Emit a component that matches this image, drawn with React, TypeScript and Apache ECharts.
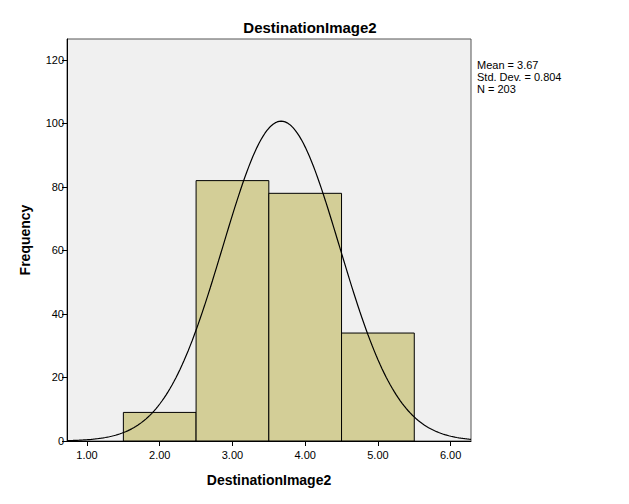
import React, { useEffect, useRef } from "react";
import * as echarts from "echarts";

const binStarts = [1.5, 2.5, 3.5, 4.5];
const binEnds = [2.5, 3.5, 4.5, 5.5];
const counts = [9, 82, 78, 34];
const xTicks = [1, 2, 3, 4, 5, 6];
const yTicks = [0, 20, 40, 60, 80, 100, 120];
const statsLines = ["Mean = 3.67", "Std. Dev. = 0.804", "N = 203"];
const mean = 3.67;
const sd = 0.804;
const n = 203;
const binWidth = 1;

const X_MIN = 0.725;
const X_MAX = 6.28;
const Y_MAX = 126.6;

export default function App() {
  const ref = useRef<HTMLDivElement>(null);
  useEffect(() => {
    if (!ref.current) return;
    const chart = echarts.init(ref.current, undefined, { renderer: "svg" });
    const curve: number[][] = [];
    const steps = 200;
    for (let i = 0; i <= steps; i++) {
      const x = X_MIN + ((X_MAX - X_MIN) * i) / steps;
      const z = (x - mean) / sd;
      const y = (n * binWidth * Math.exp(-0.5 * z * z)) / (sd * Math.sqrt(2 * Math.PI));
      curve.push([x, y]);
    }
    const barData = counts.map((c, i) => [binStarts[i], binEnds[i], c]);
    const font = "'Liberation Sans', Arial, sans-serif";
    chart.setOption({
      animation: false,
      backgroundColor: "#ffffff",
      title: {
        text: "DestinationImage2",
        left: 305,
        top: 15,
        textAlign: "center",
        textStyle: { fontFamily: font, fontSize: 15, fontWeight: "bold", color: "#000" },
      },
      grid: {
        left: 67,
        top: 39,
        right: 158,
        bottom: 63,
        show: true,
        backgroundColor: "#f0f0f0",
        borderColor: "#555555",
        borderWidth: 1,
      },
      xAxis: {
        type: "value",
        min: X_MIN,
        max: X_MAX,
        name: "DestinationImage2",
        nameLocation: "middle",
        nameGap: 32,
        nameTextStyle: { fontFamily: font, fontSize: 14, fontWeight: "bold", color: "#000" },
        axisLine: { show: true, lineStyle: { color: "#000", width: 1 } },
        axisTick: { show: true, length: 5, customValues: xTicks, lineStyle: { color: "#000" } },
        axisLabel: {
          customValues: xTicks,
          formatter: (v: number) => v.toFixed(2),
          fontFamily: font,
          fontSize: 11,
          color: "#000",
          margin: 8,
        },
        splitLine: { show: false },
      },
      yAxis: {
        type: "value",
        min: 0,
        max: Y_MAX,
        name: "Frequency",
        nameLocation: "middle",
        nameGap: 35,
        nameTextStyle: { fontFamily: font, fontSize: 14, fontWeight: "bold", color: "#000" },
        axisLine: { show: true, lineStyle: { color: "#000", width: 1 } },
        axisTick: { show: true, length: 5, customValues: yTicks, lineStyle: { color: "#000" } },
        axisLabel: {
          customValues: yTicks,
          fontFamily: font,
          fontSize: 11,
          color: "#000",
          margin: 3,
        },
        splitLine: { show: false },
      },
      graphic: [
        {
          type: "text",
          left: 477,
          top: 59,
          style: {
            text: statsLines.join("\n"),
            font: `11px ${font}`,
            lineHeight: 12,
            fill: "#000",
          },
        },
      ],
      series: [
        {
          type: "custom",
          data: barData,
          encode: { x: [0, 1], y: 2 },
          renderItem: (params: any, api: any) => {
            const p0 = api.coord([api.value(0), api.value(2)]);
            const p1 = api.coord([api.value(1), 0]);
            return {
              type: "rect",
              shape: { x: p0[0], y: p0[1], width: p1[0] - p0[0], height: p1[1] - p0[1] },
              style: { fill: "#d3ce97", stroke: "#000", lineWidth: 1 },
            };
          },
          z: 2,
        },
        {
          type: "line",
          data: curve,
          showSymbol: false,
          symbol: "none",
          smooth: false,
          lineStyle: { color: "#000", width: 1.2 },
          z: 3,
        },
      ],
    });
    return () => chart.dispose();
  }, []);
  return (
    <div
      ref={ref}
      style={{ position: "fixed", left: 0, top: 0, width: 629, height: 504 }}
    />
  );
}
